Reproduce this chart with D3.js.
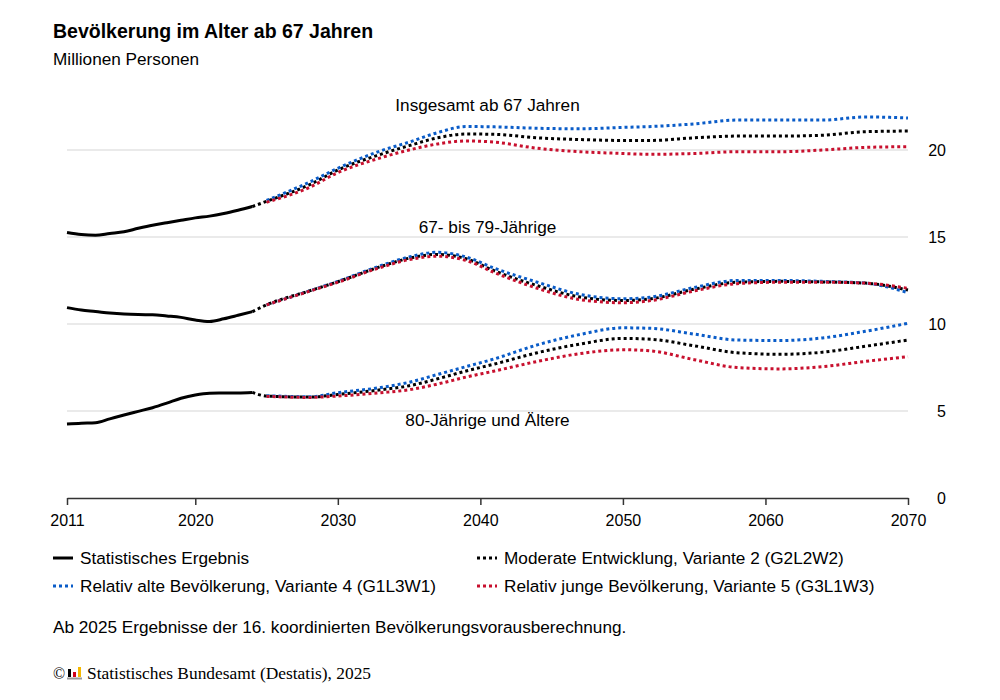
<!DOCTYPE html>
<html>
<head>
<meta charset="utf-8">
<script src="https://cdn.jsdelivr.net/npm/d3@7"></script>
<style>
  body { margin: 0; background: #fff; }
  svg { font-family: "Liberation Sans", Arial, sans-serif; }
</style>
</head>
<body>
<svg width="1000" height="700"></svg>
<script>
// historical data (Statistisches Ergebnis)
let histYears = [2011, 2012, 2013, 2014, 2015, 2016, 2017, 2018, 2019, 2020, 2021, 2022, 2023, 2024];
let histTotal = [15.26, 15.14, 15.1, 15.2, 15.3, 15.5, 15.68, 15.82, 15.96, 16.1, 16.2, 16.35, 16.54, 16.75];
let hist6779 = [10.94, 10.8, 10.72, 10.63, 10.57, 10.54, 10.53, 10.46, 10.38, 10.23, 10.15, 10.3, 10.5, 10.71];
let hist80 = [4.25, 4.3, 4.33, 4.55, 4.77, 4.98, 5.19, 5.45, 5.73, 5.92, 6.02, 6.03, 6.04, 6.07];

// projections (null = not drawn)
let projYears = [2024, 2025, 2028, 2030, 2033, 2035, 2037, 2039, 2041, 2044, 2047, 2050, 2052, 2055, 2058, 2061, 2064, 2067, 2070];
let totalV2 = [16.75, 17.05, 18.0, 18.85, 19.75, 20.25, 20.7, 20.92, 20.9, 20.7, 20.6, 20.55, 20.55, 20.7, 20.8, 20.8, 20.85, 21.05, 21.09];
let totalV4 = [null, 17.1, 18.15, 18.95, 19.95, 20.45, 21.0, 21.35, 21.33, 21.25, 21.22, 21.3, 21.35, 21.5, 21.72, 21.72, 21.72, 21.9, 21.84];
let totalV5 = [null, 17.0, 17.85, 18.7, 19.55, 20.0, 20.35, 20.52, 20.45, 20.1, 19.9, 19.8, 19.75, 19.8, 19.9, 19.9, 20.0, 20.15, 20.19];
let mid6779V2 = [10.71, 11.1, 11.9, 12.43, 13.3, 13.78, 14.0, 13.75, 13.05, 12.2, 11.55, 11.35, 11.45, 12.0, 12.4, 12.45, 12.42, 12.35, 11.95];
let mid6779V4 = [null, 11.1, 11.9, 12.45, 13.35, 13.85, 14.12, 13.85, 13.2, 12.4, 11.7, 11.45, 11.55, 12.1, 12.5, 12.5, 12.45, 12.35, 11.8];
let mid6779V5 = [null, 11.1, 11.88, 12.4, 13.25, 13.7, 13.9, 13.65, 12.95, 12.05, 11.4, 11.22, 11.35, 11.9, 12.32, 12.4, 12.4, 12.35, 12.05];
let old80V2 = [6.07, 5.86, 5.8, 5.95, 6.22, 6.45, 6.85, 7.3, 7.7, 8.35, 8.85, 9.17, 9.12, 8.75, 8.35, 8.26, 8.38, 8.72, 9.08];
let old80V4 = [null, 5.88, 5.82, 6.05, 6.35, 6.65, 7.1, 7.55, 8.0, 8.8, 9.4, 9.78, 9.75, 9.42, 9.08, 9.05, 9.2, 9.58, 10.04];
let old80V5 = [null, 5.84, 5.78, 5.86, 6.05, 6.22, 6.55, 6.95, 7.3, 7.85, 8.3, 8.52, 8.45, 7.95, 7.5, 7.42, 7.55, 7.85, 8.12];

let xTicks = [2011, 2020, 2030, 2040, 2050, 2060, 2070];
let yTicks = [0, 5, 10, 15, 20];

let colBlack = "#000000", colBlue = "#0a5cc8", colRed = "#c8102e";

let svg = d3.select("svg");
let scale_x = d3.scaleLinear().domain([2011, 2070]).range([67, 908]);
let scale_y = d3.scaleLinear().domain([0, 20]).range([498, 150]);

// title
svg.append("text").attr("x", 53).attr("y", 38)
    .style("font-size", "19.5px").style("font-weight", "bold")
    .text("Bevölkerung im Alter ab 67 Jahren");
svg.append("text").attr("x", 53).attr("y", 65)
    .style("font-size", "17.2px")
    .text("Millionen Personen");

// gridlines
svg.append("g").selectAll("line").data(yTicks.filter(d => d > 0)).enter().append("line")
    .attr("x1", 67).attr("x2", 908)
    .attr("y1", d => scale_y(d)).attr("y2", d => scale_y(d))
    .attr("stroke", "#e3e3e3").attr("stroke-width", 1.5);

// y labels on the right
svg.append("g").selectAll("text").data(yTicks).enter().append("text")
    .attr("x", 946).attr("y", d => scale_y(d) + 6)
    .attr("text-anchor", "end")
    .style("font-size", "16px")
    .text(d => d);

// x axis
let x_axis = d3.axisBottom(scale_x).tickValues(xTicks).tickFormat(d3.format("d")).tickSize(7).tickSizeOuter(0);
let gx = svg.append("g").attr("transform", "translate(0,498)").call(x_axis);
gx.select(".domain").attr("stroke", "#333").attr("stroke-width", 1.5);
gx.selectAll(".tick line").attr("stroke", "#333").attr("stroke-width", 1.5);
gx.selectAll(".tick text").attr("fill", "#000").attr("dy", "1.15em")
    .style("font-size", "16px").style("font-family", "'Liberation Sans', Arial, sans-serif");

// line generators
let histLine = d3.line()
    .x((d, i) => scale_x(histYears[i]))
    .y(d => scale_y(d))
    .curve(d3.curveMonotoneX);
let projLine = d3.line()
    .defined(d => d !== null)
    .x((d, i) => scale_x(projYears[i]))
    .y(d => scale_y(d))
    .curve(d3.curveMonotoneX);

let hist = [histTotal, hist6779, hist80];
svg.append("g").selectAll("path").data(hist).enter().append("path")
    .attr("d", histLine)
    .attr("fill", "none").attr("stroke", colBlack).attr("stroke-width", 3);

let proj = [
    {v: totalV2, c: colBlack}, {v: totalV4, c: colBlue}, {v: totalV5, c: colRed},
    {v: mid6779V2, c: colBlack}, {v: mid6779V4, c: colBlue}, {v: mid6779V5, c: colRed},
    {v: old80V2, c: colBlack}, {v: old80V4, c: colBlue}, {v: old80V5, c: colRed}
];
svg.append("g").selectAll("path").data(proj).enter().append("path")
    .attr("d", d => projLine(d.v))
    .attr("fill", "none").attr("stroke", d => d.c)
    .attr("stroke-width", 3).attr("stroke-dasharray", "3,3");

// group labels
let groupLabels = [
    {t: "Insgesamt ab 67 Jahren", x: 2040.5, y: 111},
    {t: "67- bis 79-Jährige", x: 2040.5, y: 233},
    {t: "80-Jährige und Ältere", x: 2040.5, y: 426}
];
svg.append("g").selectAll("text").data(groupLabels).enter().append("text")
    .attr("x", d => scale_x(d.x)).attr("y", d => d.y)
    .attr("text-anchor", "middle")
    .style("font-size", "17.2px")
    .text(d => d.t);

// legend
let legend = [
    {t: "Statistisches Ergebnis", c: colBlack, dash: null, x: 53, y: 558},
    {t: "Moderate Entwicklung, Variante 2 (G2L2W2)", c: colBlack, dash: "3,3", x: 477, y: 558},
    {t: "Relativ alte Bevölkerung, Variante 4 (G1L3W1)", c: colBlue, dash: "3,3", x: 53, y: 586},
    {t: "Relativ junge Bevölkerung, Variante 5 (G3L1W3)", c: colRed, dash: "3,3", x: 477, y: 586}
];
let lg = svg.append("g").selectAll("g").data(legend).enter().append("g")
    .attr("transform", d => "translate(" + d.x + "," + d.y + ")");
lg.append("line").attr("x1", 0).attr("x2", 20).attr("y1", 0).attr("y2", 0)
    .attr("stroke", d => d.c).attr("stroke-width", 3)
    .attr("stroke-dasharray", d => d.dash);
lg.append("text").attr("x", 27).attr("y", 6)
    .style("font-size", "17.2px")
    .text(d => d.t);

// note
svg.append("text").attr("x", 53).attr("y", 633)
    .style("font-size", "17.2px")
    .text("Ab 2025 Ergebnisse der 16. koordinierten Bevölkerungsvorausberechnung.");

// source with small logo
let src = svg.append("g").attr("transform", "translate(53,679)");
src.append("text").attr("x", 0).attr("y", 0)
    .style("font-family", "'Liberation Serif', 'Times New Roman', serif").style("font-size", "16px")
    .text("©");
src.append("rect").attr("x", 15).attr("y", -10).attr("width", 3).attr("height", 8).attr("fill", "#000");
src.append("rect").attr("x", 20).attr("y", -7).attr("width", 3).attr("height", 5).attr("fill", "#d0021b");
src.append("rect").attr("x", 25).attr("y", -12).attr("width", 3).attr("height", 10).attr("fill", "#f5b800");
src.append("rect").attr("x", 14).attr("y", -1.5).attr("width", 15).attr("height", 2).attr("fill", "#999");
src.append("text").attr("x", 34).attr("y", 0)
    .style("font-family", "'Liberation Serif', 'Times New Roman', serif").style("font-size", "17.4px")
    .text("Statistisches Bundesamt (Destatis), 2025");
</script>
</body>
</html>
